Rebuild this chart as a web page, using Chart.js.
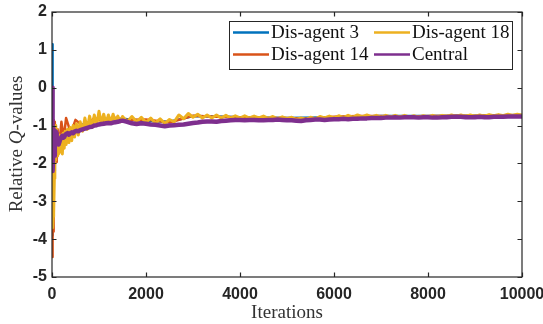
<!DOCTYPE html>
<html>
<head>
<meta charset="utf-8">
<script src="https://cdn.jsdelivr.net/npm/chart.js@4.4.0/dist/chart.umd.min.js"></script>
<style>
    html, body { margin: 0; padding: 0; background: #ffffff; }
    #wrap { width: 543px; height: 324px; }
</style>
</head>
<body>
<div id="wrap"><canvas id="qChart" width="543" height="324"></canvas></div>
<script>
// Iterations (shared by Dis-agent 18 and Central)
const iterEarly = [0, 5, 10, 15, 20, 25, 30, 40, 50, 60, 70, 80, 90, 100, 110, 120, 140, 160, 180, 200,
    220, 240, 260, 280, 300, 330, 360, 390, 420, 450, 480, 520, 560, 600, 650, 700, 750, 800, 850, 900,
    950, 1000, 1050, 1100, 1150, 1200, 1250, 1300, 1350, 1400, 1450, 1500];
const iterLate = [1600, 1700, 1800, 1900, 2000, 2100, 2200, 2300, 2400, 2500,
    2600, 2700, 2800, 2900, 3000, 3100, 3200, 3300, 3400, 3500,
    3600, 3700, 3800, 3900, 4000, 4100, 4200, 4300, 4400, 4500,
    4600, 4700, 4800, 4900, 5000, 5100, 5200, 5300, 5400, 5500,
    5600, 5700, 5800, 5900, 6000, 6100, 6200, 6300, 6400, 6500,
    6600, 6700, 6800, 6900, 7000, 7100, 7200, 7300, 7400, 7500,
    7600, 7700, 7800, 7900, 8000, 8100, 8200, 8300, 8400, 8500,
    8600, 8700, 8800, 8900, 9000, 9100, 9200, 9300, 9400, 9500,
    9600, 9700, 9800, 9900, 10000];

// Dis-agent 18
const agent18Early = [-1.9, -2.6, -3.2, -3.5, -3.7, -3.4, -2.8, -3.3, -2.4, -1.2, -1.9, -1.0, -1.7, -1.1, -1.8, -1.3, -1.75, -1.25, -1.7, -1.3,
    -1.75, -1.2, -1.6, -1.15, -1.5, -1.1, -1.45, -1.05, -1.4, -1.0, -1.3, -0.95, -1.25, -0.9, -1.15, -0.8, -1.1, -0.75, -1.05, -0.72,
    -1.0, -0.62, -0.95, -0.7, -0.95, -0.72, -0.92, -0.7, -0.9, -0.75, -0.9, -0.76];
const agent18Late = [-0.9, -0.76, -0.9, -0.78, -0.92, -0.8, -0.93, -0.82, -0.94, -0.84,
    -0.9, -0.72, -0.82, -0.68, -0.78, -0.7, -0.8, -0.72, -0.8, -0.72,
    -0.8, -0.73, -0.8, -0.74, -0.8, -0.74, -0.8, -0.75, -0.8, -0.75,
    -0.81, -0.76, -0.82, -0.77, -0.82, -0.78, -0.84, -0.8, -0.84, -0.78,
    -0.82, -0.76, -0.8, -0.75, -0.8, -0.74, -0.79, -0.73, -0.78, -0.72,
    -0.77, -0.72, -0.77, -0.73, -0.78, -0.73, -0.77, -0.73, -0.77, -0.73,
    -0.77, -0.74, -0.78, -0.74, -0.77, -0.73, -0.77, -0.73, -0.76, -0.72,
    -0.76, -0.72, -0.76, -0.72, -0.76, -0.72, -0.75, -0.71, -0.74, -0.71,
    -0.74, -0.7, -0.73, -0.7, -0.73];

// Central
const centralEarly = [0.0, -0.4, -1.3, -1.9, -2.2, -1.7, -1.1, -1.5, -1.8, -1.55, -1.3, -1.15, -1.2, -1.3, -1.4, -1.45, -1.5, -1.42, -1.35, -1.3,
    -1.27, -1.32, -1.3, -1.25, -1.22, -1.2, -1.24, -1.2, -1.18, -1.2, -1.16, -1.14, -1.15, -1.12, -1.1, -1.08, -1.06, -1.04, -1.03, -1.0,
    -0.99, -0.97, -0.96, -0.95, -0.94, -0.93, -0.94, -0.92, -0.91, -0.9, -0.88, -0.87];
const centralLate = [-0.9, -0.94, -0.96, -0.94, -0.95, -0.97, -0.98, -1.0, -1.02, -1.0,
    -0.99, -0.98, -0.97, -0.95, -0.93, -0.92, -0.9, -0.89, -0.89, -0.9,
    -0.88, -0.87, -0.86, -0.85, -0.85, -0.86, -0.85, -0.85, -0.86, -0.86,
    -0.85, -0.85, -0.84, -0.85, -0.86, -0.86, -0.87, -0.88, -0.86, -0.85,
    -0.84, -0.84, -0.85, -0.84, -0.83, -0.83, -0.82, -0.83, -0.82, -0.82,
    -0.81, -0.81, -0.8, -0.8, -0.8, -0.79, -0.79, -0.78, -0.79, -0.78,
    -0.78, -0.78, -0.79, -0.78, -0.78, -0.79, -0.79, -0.78, -0.78, -0.77,
    -0.77, -0.77, -0.78, -0.78, -0.78, -0.77, -0.78, -0.78, -0.77, -0.77,
    -0.77, -0.76, -0.76, -0.76, -0.76];

// Dis-agent 3
const iterAgent3 = [0, 5, 10, 15, 20, 25, 30, 40, 50, 60, 70, 80, 100, 120, 150, 200, 250, 300, 400, 500,
    700, 900, 1200, 1500, 2000, 2500, 3000, 3500, 4000, 5000, 6000, 7000, 8000, 9000, 10000];
const agent3Vals = [-3.9, 1.15, -1.0, -2.5, -3.3, -2.2, -3.0, -1.6, -2.2, -1.3, -1.8, -1.2, -1.5, -1.3, -1.5, -1.35, -1.4, -1.25, -1.2, -1.05,
    -0.95, -0.85, -0.82, -0.82, -0.88, -0.9, -0.75, -0.76, -0.78, -0.8, -0.78, -0.75, -0.75, -0.74, -0.72];

// Dis-agent 14
const iterAgent14 = [0, 5, 10, 15, 20, 25, 30, 40, 50, 60, 70, 80, 100, 120, 150, 200, 250, 300, 400, 500,
    700, 900, 1100, 1300, 1500, 2000, 2500, 3000, 3500, 4000, 4500, 5000, 5500, 6000, 6500, 7000, 7500, 8000, 8500, 9000,
    9500, 10000];
const agent14Vals = [0.0, -2.0, -4.47, -3.9, -2.6, -3.8, -1.9, -0.85, -2.0, -0.9, -1.8, -1.3, -1.96, -1.1, -1.6, -0.9, -1.33, -0.8, -1.2, -0.85,
    -1.05, -0.8, -0.9, -0.78, -0.85, -0.84, -0.92, -0.74, -0.77, -0.78, -0.8, -0.8, -0.82, -0.77, -0.75, -0.75, -0.76, -0.75, -0.74, -0.74,
    -0.73, -0.72];

// Axis ticks
const xTicks = [0, 2000, 4000, 6000, 8000, 10000];
const yTicks = [-5, -4, -3, -2, -1, 0, 1, 2];

const AXIS_COLOR = '#262626';
const legendItems = [
    { label: 'Dis-agent 3', color: '#0072BD' },
    { label: 'Dis-agent 18', color: '#EDB120' },
    { label: 'Dis-agent 14', color: '#D95319' },
    { label: 'Central', color: '#7E2F8E' }
];

function toPoints(xs, ys) {
    return xs.map((x, i) => ({ x: x, y: ys[i] }));
}

const iterMain = iterEarly.concat(iterLate);

// Box, inward ticks and axis titles (MATLAB look)
const framePlugin = {
    id: 'frame',
    afterDraw(chart) {
        const { ctx, chartArea: a, scales } = chart;
        ctx.save();
        ctx.strokeStyle = AXIS_COLOR;
        ctx.lineWidth = 1.2;
        ctx.strokeRect(a.left, a.top, a.right - a.left, a.bottom - a.top);
        const len = 4.5;
        ctx.beginPath();
        xTicks.forEach(v => {
            const px = Math.round(scales.x.getPixelForValue(v)) + 0.5;
            ctx.moveTo(px, a.bottom); ctx.lineTo(px, a.bottom - len);
            ctx.moveTo(px, a.top); ctx.lineTo(px, a.top + len);
        });
        yTicks.forEach(v => {
            const py = Math.round(scales.y.getPixelForValue(v)) + 0.5;
            ctx.moveTo(a.left, py); ctx.lineTo(a.left + len, py);
            ctx.moveTo(a.right, py); ctx.lineTo(a.right - len, py);
        });
        ctx.stroke();

        // tick labels
        ctx.fillStyle = AXIS_COLOR;
        ctx.font = 'bold 16px "Liberation Sans", Arial, sans-serif';
        ctx.textAlign = 'center';
        ctx.textBaseline = 'middle';
        xTicks.forEach(v => ctx.fillText(String(v), scales.x.getPixelForValue(v), 295));
        ctx.textAlign = 'right';
        yTicks.forEach(v => ctx.fillText(String(v), 47, scales.y.getPixelForValue(v)));

        // x title
        ctx.fillStyle = '#333333';
        ctx.font = '19px "Liberation Serif"';
        ctx.textAlign = 'center';
        ctx.fillText('Iterations', (a.left + a.right) / 2, 313);

        // y title with italic Q
        const parts = [
            { t: 'Relative ', f: '19px "Liberation Serif"' },
            { t: 'Q', f: 'italic 19px "Liberation Serif"' },
            { t: '-values', f: '19px "Liberation Serif"' }
        ];
        let total = 0;
        parts.forEach(p => { ctx.font = p.f; p.w = ctx.measureText(p.t).width; total += p.w; });
        ctx.translate(17, 144);
        ctx.rotate(-Math.PI / 2);
        ctx.textAlign = 'left';
        let cx = -total / 2;
        parts.forEach(p => { ctx.font = p.f; ctx.fillText(p.t, cx, 0); cx += p.w; });
        ctx.restore();

        // legend box
        ctx.save();
        const bx = 229.5, by = 21.5, bw = 283, bh = 48;
        ctx.fillStyle = '#ffffff';
        ctx.fillRect(bx, by, bw, bh);
        ctx.strokeStyle = AXIS_COLOR;
        ctx.lineWidth = 1;
        ctx.strokeRect(bx, by, bw, bh);
        const cols = [233, 374];
        const rows = [32.5, 54.5];
        ctx.font = '19px "Liberation Serif"';
        ctx.textAlign = 'left';
        ctx.textBaseline = 'middle';
        legendItems.forEach((item, i) => {
            const lx = cols[i % 2];
            const ly = rows[Math.floor(i / 2)];
            ctx.strokeStyle = item.color;
            ctx.lineWidth = 2.5;
            ctx.beginPath();
            ctx.moveTo(lx, ly); ctx.lineTo(lx + 36, ly);
            ctx.stroke();
            ctx.fillStyle = '#111111';
            ctx.fillText(item.label, lx + 38, ly + 1);
        });
        ctx.restore();
    }
};

new Chart(document.getElementById('qChart'), {
    type: 'line',
    data: {
        datasets: [
            { label: 'Central', data: toPoints(iterMain, centralEarly.concat(centralLate)), borderColor: '#7E2F8E', borderWidth: 4.5, order: 0 },
            { label: 'Dis-agent 18', data: toPoints(iterMain, agent18Early.concat(agent18Late)), borderColor: '#EDB120', borderWidth: 3, order: 1 },
            { label: 'Dis-agent 14', data: toPoints(iterAgent14, agent14Vals), borderColor: '#D95319', borderWidth: 2.5, order: 2 },
            { label: 'Dis-agent 3', data: toPoints(iterAgent3, agent3Vals), borderColor: '#0072BD', borderWidth: 2.5, order: 3 }
        ]
    },
    options: {
        responsive: false,
        animation: false,
        devicePixelRatio: 1,
        layout: { padding: { top: 12, right: 21, left: 0, bottom: 0 } },
        elements: {
            point: { radius: 0 },
            line: { tension: 0, fill: false, borderJoinStyle: 'round' }
        },
        plugins: {
            legend: { display: false },
            tooltip: { enabled: false }
        },
        scales: {
            x: {
                type: 'linear',
                min: 0,
                max: 10000,
                afterFit(scale) { scale.height = 47; },
                grid: { display: false, drawTicks: false },
                border: { display: false },
                ticks: { display: false }
            },
            y: {
                min: -5,
                max: 2,
                afterFit(scale) { scale.width = 52; },
                grid: { display: false, drawTicks: false },
                border: { display: false },
                ticks: { display: false }
            }
        }
    },
    plugins: [framePlugin]
});
</script>
</body>
</html>
